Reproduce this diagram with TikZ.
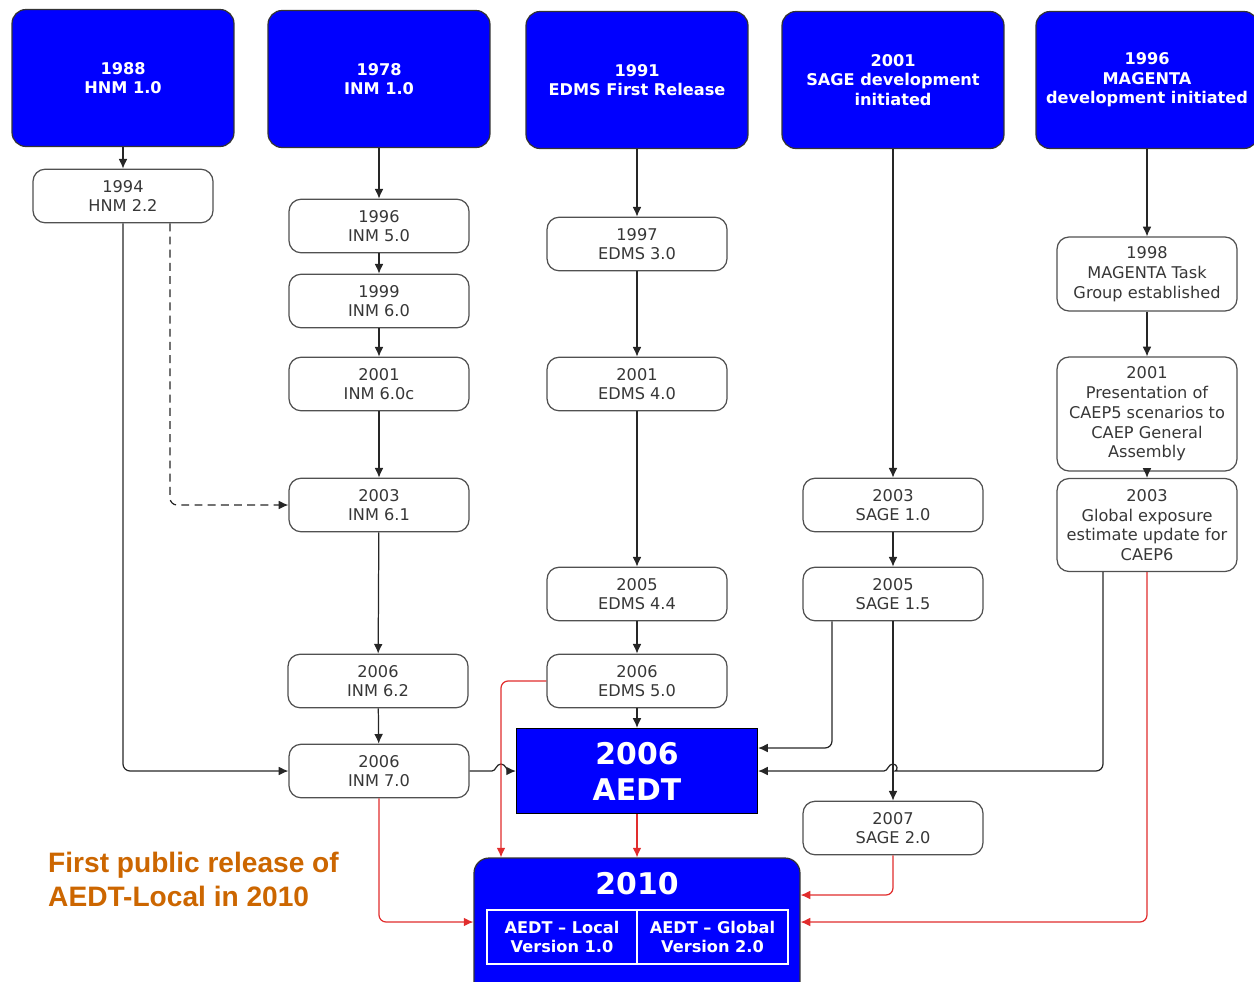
\documentclass[tikz,border=0pt]{standalone}
\usepackage{fontspec}
\setmainfont{DejaVu Sans}
\newfontfamily\notefont{Liberation Sans}
\usepackage{xcolor}
\usetikzlibrary{arrows.meta, positioning}

\definecolor{boxblue}{RGB}{0,0,255}
\definecolor{lbltxt}{RGB}{55,55,55}
\definecolor{linegray}{RGB}{80,80,80}
\definecolor{relorange}{RGB}{204,102,0}
\definecolor{linkred}{RGB}{225,45,45}

\tikzset{
    topbox/.style={draw=black!80, fill=boxblue, line width=0.7pt, rounded corners=0.28cm,
        minimum width=4.44cm, minimum height=2.74cm, inner sep=0pt, align=center,
        text=white, font=\fontsize{9.2}{11.2}\selectfont\bfseries},
    evtbox/.style={draw=linegray, fill=white, line width=0.7pt, rounded corners=0.24cm,
        minimum width=3.6cm, minimum height=1.07cm, inner sep=0pt, align=center,
        text=lbltxt, font=\fontsize{9.2}{11.2}\selectfont},
    verbox/.style={draw=white, line width=0.6pt, minimum width=3.0cm, minimum height=1.08cm,
        inner sep=0pt, align=center, text=white, font=\fontsize{9.2}{11.2}\selectfont\bfseries},
    flow/.style={->, line width=0.7pt, black!85},
    redflow/.style={->, line width=0.7pt, linkred, rounded corners=4pt}
}

\begin{document}
\begin{tikzpicture}[x=0.02cm, y=-0.02cm, >={Latex[length=5.5pt,width=5pt]}]
    \useasboundingbox (0,0) rectangle (1254,981);
    \clip (0,0) rectangle (1254,981);

    % Kopfzeile
    \node[topbox] (hnm1) at (123,78) {1988\\HNM 1.0};
    \node[topbox] (inm1) at (379,79) {1978\\INM 1.0};
    \node[topbox] (edms1) at (637,80) {1991\\EDMS First Release};
    \node[topbox] (sage1) at (893,80) {2001\\SAGE development\\initiated};
    \node[topbox] (mag1) at (1147,80) {1996\\MAGENTA\\development initiated};

    % HNM / INM
    \node[evtbox] (hnm22) at (123,196) {1994\\HNM 2.2};
    \node[evtbox] (inm5) at (379,226) {1996\\INM 5.0};
    \node[evtbox] (inm6) at (379,301) {1999\\INM 6.0};
    \node[evtbox] (inm6c) at (379,384) {2001\\INM 6.0c};
    \node[evtbox] (inm61) at (379,505) {2003\\INM 6.1};
    \node[evtbox] (inm62) at (378,681) {2006\\INM 6.2};
    \node[evtbox] (inm7) at (379,771) {2006\\INM 7.0};

    % EDMS
    \node[evtbox] (edms3) at (637,244) {1997\\EDMS 3.0};
    \node[evtbox] (edms4) at (637,384) {2001\\EDMS 4.0};
    \node[evtbox] (edms44) at (637,594) {2005\\EDMS 4.4};
    \node[evtbox] (edms5) at (637,681) {2006\\EDMS 5.0};

    % SAGE
    \node[evtbox] (sage10) at (893,505) {2003\\SAGE 1.0};
    \node[evtbox] (sage15) at (893,594) {2005\\SAGE 1.5};
    \node[evtbox] (sage2) at (893,828) {2007\\SAGE 2.0};

    % MAGENTA
    \node[evtbox, minimum height=1.48cm] (mag98) at (1147,274) {1998\\MAGENTA Task\\Group established};
    \node[evtbox, minimum height=2.28cm] (mag01) at (1147,414) {2001\\Presentation of\\CAEP5 scenarios to\\CAEP General\\Assembly};
    \node[evtbox, minimum height=1.86cm] (mag03) at (1147,525) {2003\\Global exposure\\estimate update for\\CAEP6};

    % AEDT
    \node[draw=black, fill=boxblue, line width=0.7pt, minimum width=4.82cm, minimum height=1.7cm,
        inner sep=0pt, align=center, text=white, font=\fontsize{17}{20.5}\selectfont\bfseries]
        (aedt) at (637,771) {2006\\AEDT};
    \node[draw=black!80, fill=boxblue, line width=0.7pt, rounded corners=0.3cm,
        minimum width=6.52cm, minimum height=2.8cm, inner sep=0pt] (ten) at (637,928) {};
    \node[text=white, font=\fontsize{17}{20.5}\selectfont\bfseries] (tenyr) at (637,884) {2010};
    \node[verbox] (local) at (562,937) {AEDT – Local\\Version 1.0};
    \node[verbox, minimum width=3.02cm] (global) at (712.5,937) {AEDT – Global\\Version 2.0};

    \node[anchor=west, align=left, text=relorange, font=\notefont\bfseries\fontsize{16}{19.3}\selectfont]
        (note) at (42,879) {First public release of\\AEDT-Local in 2010};

    % Verbindungen
    \foreach \a/\b in {hnm1/hnm22, inm1/inm5, inm5/inm6, inm6/inm6c, inm6c/inm61, inm61/inm62,
        inm62/inm7, edms1/edms3, edms3/edms4, edms4/edms44, edms44/edms5, edms5/aedt,
        sage1/sage10, sage10/sage15, sage15/sage2, mag1/mag98, mag98/mag01, mag01/mag03} {
        \draw[flow] (\a) -- (\b);
    }
    \draw[flow, rounded corners=4pt] (hnm22.south) |- (inm7.west);
    \draw[flow, rounded corners=4pt, dash pattern=on 4.5pt off 3pt] ([xshift=0.94cm]hnm22.south) |- (inm61.west);
    \draw[flow, rounded corners=4pt] ([xshift=-1.22cm]sage15.south) |- ([yshift=0.46cm]aedt.east);
    \draw[flow] (inm7.east) -- (492,771) .. controls (496,771) and (496,764) .. (501,764)
        .. controls (506,764) and (506,771) .. (510,771) -- (aedt.west);
    \draw[flow, rounded corners=4pt] ([xshift=-0.88cm]mag03.south) |- (902,771) [sharp corners]
        .. controls (898,771) and (898,764) .. (893,764)
        .. controls (888,764) and (888,771) .. (884,771) -- (aedt.east);

    % rote Linien
    \draw[redflow] (inm7.south) |- (ten.west |- 0,922);
    \draw[redflow] (edms5.west) -| (ten.north -| 501,0);
    \draw[redflow] (aedt.south) -- (ten.north);
    \draw[redflow] (sage2.south) |- (ten.east |- 0,895);
    \draw[redflow] (mag03.south) |- (ten.east |- 0,922);
\end{tikzpicture}
\end{document}
